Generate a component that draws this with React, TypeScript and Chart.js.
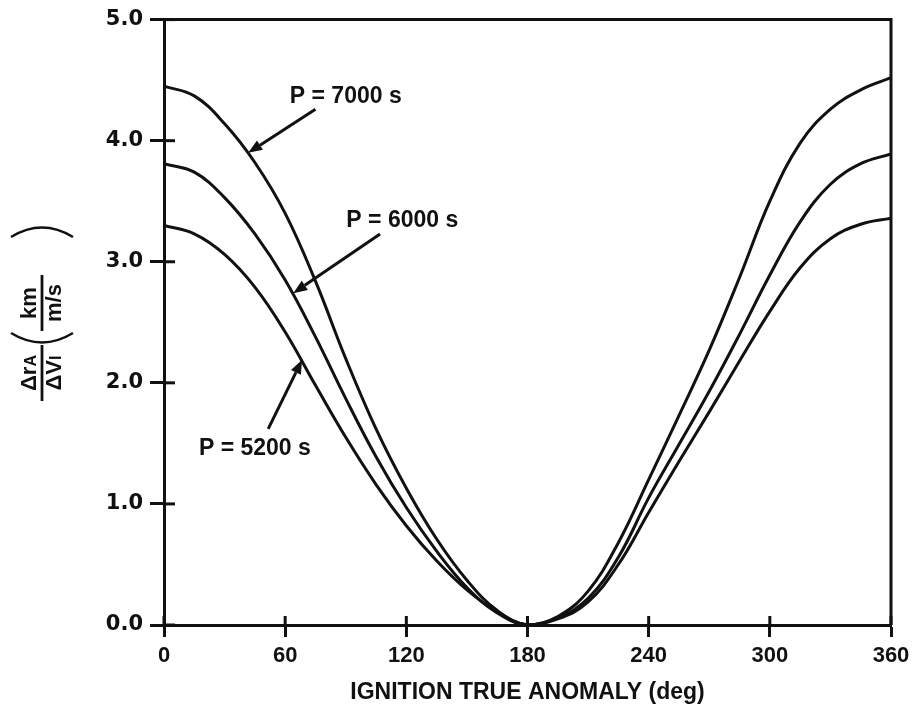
import { useEffect, useRef } from "react";
import { Chart, registerables } from "chart.js";

Chart.register(...registerables);

// ---- data ----
const anomalyDeg = [0, 15, 30, 45, 60, 75, 90, 105, 120, 135, 150, 165, 180, 195, 210, 225, 240, 255, 270, 285, 300, 315, 330, 345, 360];
const ratioP7000 = [4.45, 4.37, 4.14, 3.82, 3.40, 2.84, 2.20, 1.62, 1.13, 0.71, 0.37, 0.12, 0, 0.07, 0.28, 0.68, 1.20, 1.73, 2.27, 2.87, 3.50, 3.98, 4.26, 4.42, 4.52];
const ratioP6000 = [3.81, 3.74, 3.53, 3.23, 2.85, 2.38, 1.87, 1.39, 0.97, 0.61, 0.31, 0.10, 0, 0.06, 0.22, 0.56, 1.05, 1.49, 1.93, 2.40, 2.89, 3.33, 3.64, 3.81, 3.89];
const ratioP5200 = [3.30, 3.23, 3.06, 2.79, 2.42, 1.98, 1.55, 1.16, 0.82, 0.53, 0.29, 0.11, 0, 0.05, 0.19, 0.50, 0.93, 1.35, 1.76, 2.18, 2.59, 2.95, 3.19, 3.31, 3.36];
const seriesNames = ["P = 7000 s", "P = 6000 s", "P = 5200 s"];

const xTickValues = [0, 60, 120, 180, 240, 300, 360];
const yTickValues = [0, 1, 2, 3, 4, 5];
const xAxisTitle = "IGNITION TRUE ANOMALY (deg)";

// annotation anchors in data units
const labelAtX = [90, 118, 45];
const labelAtY = [4.36, 3.34, 1.46];
const arrowFromX = [75, 107, 51.6];
const arrowFromY = [4.26, 3.23, 1.62];
const arrowToX = [41.7, 64, 68.4];
const arrowToY = [3.9, 2.74, 2.19];

const INK = "#111111";
const SANS = "'Liberation Sans', Arial, Helvetica, sans-serif";
const NARROW = "'Liberation Sans Narrow', 'Liberation Sans', Arial, sans-serif";

function drawArrow(ctx: CanvasRenderingContext2D, x1: number, y1: number, x2: number, y2: number) {
  const ang = Math.atan2(y2 - y1, x2 - x1);
  const headLen = 14;
  const headW = 5.5;
  const bx = x2 - headLen * Math.cos(ang);
  const by = y2 - headLen * Math.sin(ang);
  ctx.beginPath();
  ctx.moveTo(x1, y1);
  ctx.lineTo(bx, by);
  ctx.lineWidth = 3;
  ctx.stroke();
  ctx.beginPath();
  ctx.moveTo(x2, y2);
  ctx.lineTo(bx + headW * Math.sin(ang), by - headW * Math.cos(ang));
  ctx.lineTo(bx - headW * Math.sin(ang), by + headW * Math.cos(ang));
  ctx.closePath();
  ctx.fill();
}

function drawYTitle(ctx: CanvasRenderingContext2D) {
  // rotated frame: u = along text (screen up), w = screen right
  const cx = 42;
  ctx.save();
  ctx.translate(cx, 0);
  ctx.rotate(-Math.PI / 2);
  ctx.fillStyle = INK;
  ctx.strokeStyle = INK;
  ctx.textBaseline = "middle";
  ctx.textAlign = "left";
  const U = (sy: number) => -sy;

  const big = `bold 22px ${SANS}`;
  const small = `bold 16px ${SANS}`;

  const drawWithSub = (main: string, sub: string, centerU: number, w: number) => {
    ctx.font = big;
    const mw = ctx.measureText(main).width;
    ctx.font = small;
    const sw = ctx.measureText(sub).width;
    const total = mw + sw;
    const start = centerU - total / 2;
    ctx.font = big;
    ctx.fillText(main, start, w);
    ctx.font = small;
    ctx.fillText(sub, start + mw, w + 2);
  };
  drawWithSub("\u0394r", "A", U(373), -12);
  drawWithSub("\u0394V", "I", U(373), 13);
  ctx.lineWidth = 2.8;
  ctx.beginPath();
  ctx.moveTo(U(401), 0);
  ctx.lineTo(U(345), 0);
  ctx.stroke();

  // parentheses
  ctx.lineWidth = 2.4;
  ctx.beginPath();
  ctx.moveTo(U(333), -31);
  ctx.quadraticCurveTo(U(352), 0, U(333), 31);
  ctx.stroke();
  ctx.beginPath();
  ctx.moveTo(U(237), -31);
  ctx.quadraticCurveTo(U(218), 0, U(237), 31);
  ctx.stroke();

  // km / m/s
  ctx.textAlign = "center";
  ctx.font = big;
  ctx.fillText("km", U(303), -12);
  ctx.fillText("m/s", U(303), 13);
  ctx.lineWidth = 2.8;
  ctx.beginPath();
  ctx.moveTo(U(331), 0);
  ctx.lineTo(U(275), 0);
  ctx.stroke();
  ctx.restore();
}

const decorPlugin = {
  id: "decor",
  afterDraw(chart: any) {
    const { ctx, chartArea: a, scales } = chart;
    const xs = scales.x;
    const ys = scales.y;
    ctx.save();
    ctx.strokeStyle = INK;
    ctx.fillStyle = INK;
    ctx.lineWidth = 3;
    ctx.lineCap = "butt";
    // frame top & right
    ctx.beginPath();
    ctx.moveTo(a.left - 1.5, a.top);
    ctx.lineTo(a.right, a.top);
    ctx.lineTo(a.right, a.bottom);
    ctx.stroke();
    // inward tick parts
    xTickValues.forEach((v) => {
      const px = xs.getPixelForValue(v);
      ctx.beginPath();
      ctx.moveTo(px, a.bottom);
      ctx.lineTo(px, a.bottom - 9);
      ctx.stroke();
    });
    yTickValues.forEach((v) => {
      const py = ys.getPixelForValue(v);
      ctx.beginPath();
      ctx.moveTo(a.left, py);
      ctx.lineTo(a.left + 11, py);
      ctx.stroke();
    });
    // annotations
    ctx.font = `bold 23px ${SANS}`;
    ctx.textAlign = "center";
    ctx.textBaseline = "middle";
    seriesNames.forEach((name, i) => {
      ctx.fillText(name, xs.getPixelForValue(labelAtX[i]), ys.getPixelForValue(labelAtY[i]));
      drawArrow(
        ctx,
        xs.getPixelForValue(arrowFromX[i]),
        ys.getPixelForValue(arrowFromY[i]),
        xs.getPixelForValue(arrowToX[i]),
        ys.getPixelForValue(arrowToY[i])
      );
    });
    drawYTitle(ctx);
    ctx.restore();
  },
};

export default function App() {
  const canvasRef = useRef<HTMLCanvasElement | null>(null);

  useEffect(() => {
    if (!canvasRef.current) return;
    const mk = (label: string, vals: number[]) => ({
      label,
      data: anomalyDeg.map((x, i) => ({ x, y: vals[i] })),
      borderColor: INK,
      borderWidth: 3,
      pointRadius: 0,
      fill: false,
      tension: 0.4,
    });
    const chart = new Chart(canvasRef.current, {
      type: "line",
      data: {
        datasets: [mk(seriesNames[0], ratioP7000), mk(seriesNames[1], ratioP6000), mk(seriesNames[2], ratioP5200)],
      },
      options: {
        animation: false,
        responsive: false,
        devicePixelRatio: 1,
        layout: { padding: { top: 14, right: 30, left: 0, bottom: 0 } },
        plugins: { legend: { display: false }, tooltip: { enabled: false } },
        events: [],
        scales: {
          x: {
            type: "linear",
            min: 0,
            max: 360,
            afterFit: (s: any) => {
              s.height = 92;
            },
            afterBuildTicks: (s: any) => {
              s.ticks = xTickValues.map((v) => ({ value: v }));
            },
            ticks: {
              color: INK,
              font: { family: NARROW, size: 22, weight: "bold" },
              padding: 6,
              maxRotation: 0,
              autoSkip: false,
            },
            grid: { drawOnChartArea: false, drawTicks: true, tickLength: 12, tickWidth: 3, color: INK },
            border: { display: true, color: INK, width: 3 },
            title: {
              display: true,
              text: xAxisTitle,
              color: INK,
              font: { family: NARROW, size: 23, weight: "bold" },
              padding: { top: 0, bottom: 11 },
            },
          },
          y: {
            type: "linear",
            min: 0,
            max: 5,
            afterFit: (s: any) => {
              s.width = 164;
            },
            afterBuildTicks: (s: any) => {
              s.ticks = yTickValues.map((v) => ({ value: v }));
            },
            ticks: {
              color: INK,
              font: { family: "'DejaVu Sans', sans-serif", size: 21, weight: "bold" },
              padding: 7,
              callback: (v: any) => Number(v).toFixed(1),
            },
            grid: { drawOnChartArea: false, drawTicks: true, tickLength: 14, tickWidth: 3, color: INK },
            border: { display: true, color: INK, width: 3 },
          },
        },
      },
      plugins: [decorPlugin],
    });
    return () => chart.destroy();
  }, []);

  return (
    <div style={{ position: "absolute", left: 0, top: 0, width: 921, height: 717, background: "#fff" }}>
      <canvas ref={canvasRef} width={921} height={717} style={{ width: 921, height: 717 }} />
    </div>
  );
}
